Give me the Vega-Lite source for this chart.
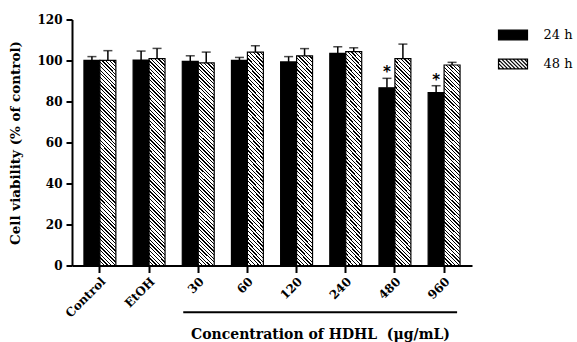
{
  "$schema": "https://vega.github.io/schema/vega-lite/v6.json",
  "autosize": {"type": "none"},
  "padding": {"left": 72, "top": 19.5, "right": 105, "bottom": 76.5},
  "width": 400,
  "height": 246,
  "background": "white",
  "data": {"values": [
    {"group": "Control", "time": "24 h", "mean": 100.1, "hi": 101.9, "sig": ""},
    {"group": "Control", "time": "48 h", "mean": 100.1, "hi": 104.8, "sig": ""},
    {"group": "EtOH", "time": "24 h", "mean": 100.2, "hi": 104.6, "sig": ""},
    {"group": "EtOH", "time": "48 h", "mean": 100.9, "hi": 105.9, "sig": ""},
    {"group": "30", "time": "24 h", "mean": 99.6, "hi": 102.3, "sig": ""},
    {"group": "30", "time": "48 h", "mean": 98.8, "hi": 104.1, "sig": ""},
    {"group": "60", "time": "24 h", "mean": 100.1, "hi": 101.5, "sig": ""},
    {"group": "60", "time": "48 h", "mean": 104.1, "hi": 107.2, "sig": ""},
    {"group": "120", "time": "24 h", "mean": 99.3, "hi": 101.9, "sig": ""},
    {"group": "120", "time": "48 h", "mean": 102.3, "hi": 105.8, "sig": ""},
    {"group": "240", "time": "24 h", "mean": 103.5, "hi": 106.7, "sig": ""},
    {"group": "240", "time": "48 h", "mean": 104.3, "hi": 106.2, "sig": ""},
    {"group": "480", "time": "24 h", "mean": 86.7, "hi": 91.3, "sig": "*"},
    {"group": "480", "time": "48 h", "mean": 100.9, "hi": 108.0, "sig": ""},
    {"group": "960", "time": "24 h", "mean": 84.3, "hi": 87.7, "sig": "*"},
    {"group": "960", "time": "48 h", "mean": 97.8, "hi": 99.1, "sig": ""}
  ]},
  "layer": [
    {
      "mark": {"type": "bar", "stroke": "black", "strokeWidth": 1.2},
      "encoding": {
        "x": {"field": "group", "type": "nominal", "title": "Concentration of HDHL\u00a0 (μg/mL)",
          "scale": {"domain": ["Control", "EtOH", "30", "60", "120", "240", "480", "960"], "paddingInner": 0.351, "paddingOuter": 0.243},
          "axis": {"labelAngle": -45, "tickSize": 7, "labelPadding": 3, "titleX": 248, "titleY": 72.5, "titleBaseline": "alphabetic", "titleAlign": "center", "titleFontSize": 14}},
        "xOffset": {"field": "time", "type": "nominal", "scale": {"domain": ["24 h", "48 h"], "paddingInner": 0, "paddingOuter": 0}},
        "y": {"field": "mean", "type": "quantitative", "title": "Cell viability (% of control)",
          "scale": {"domain": [0, 120], "nice": false},
          "axis": {"values": [0, 20, 40, 60, 80, 100, 120], "tickSize": 6, "labelPadding": 4, "titleX": -52.5, "titleY": 123, "titleBaseline": "alphabetic", "titleAlign": "center", "titleAngle": 270, "titleFontSize": 13.5}},
        "fill": {
          "field": "time", "type": "nominal",
          "scale": {"domain": ["24 h", "48 h"], "range": ["#000000", "#ffffff"]},
          "condition": {"test": "datum.time === '48 h'", "value": {
            "gradient": "linear", "x1": 0, "y1": 1, "x2": 0.0836, "y2": -0.071,
            "stops": [
              {"offset":0,"color":"#000"},{"offset":0.0058,"color":"#000"},{"offset":0.0058,"color":"#fff"},{"offset":0.0167,"color":"#fff"},
              {"offset":0.0167,"color":"#000"},{"offset":0.0225,"color":"#000"},{"offset":0.0225,"color":"#fff"},{"offset":0.0333,"color":"#fff"},
              {"offset":0.0333,"color":"#000"},{"offset":0.0391,"color":"#000"},{"offset":0.0391,"color":"#fff"},{"offset":0.05,"color":"#fff"},
              {"offset":0.05,"color":"#000"},{"offset":0.0558,"color":"#000"},{"offset":0.0558,"color":"#fff"},{"offset":0.0667,"color":"#fff"},
              {"offset":0.0667,"color":"#000"},{"offset":0.0725,"color":"#000"},{"offset":0.0725,"color":"#fff"},{"offset":0.0833,"color":"#fff"},
              {"offset":0.0833,"color":"#000"},{"offset":0.0891,"color":"#000"},{"offset":0.0891,"color":"#fff"},{"offset":0.1,"color":"#fff"},
              {"offset":0.1,"color":"#000"},{"offset":0.1058,"color":"#000"},{"offset":0.1058,"color":"#fff"},{"offset":0.1167,"color":"#fff"},
              {"offset":0.1167,"color":"#000"},{"offset":0.1225,"color":"#000"},{"offset":0.1225,"color":"#fff"},{"offset":0.1333,"color":"#fff"},
              {"offset":0.1333,"color":"#000"},{"offset":0.1391,"color":"#000"},{"offset":0.1391,"color":"#fff"},{"offset":0.15,"color":"#fff"},
              {"offset":0.15,"color":"#000"},{"offset":0.1558,"color":"#000"},{"offset":0.1558,"color":"#fff"},{"offset":0.1667,"color":"#fff"},
              {"offset":0.1667,"color":"#000"},{"offset":0.1725,"color":"#000"},{"offset":0.1725,"color":"#fff"},{"offset":0.1833,"color":"#fff"},
              {"offset":0.1833,"color":"#000"},{"offset":0.1891,"color":"#000"},{"offset":0.1891,"color":"#fff"},{"offset":0.2,"color":"#fff"},
              {"offset":0.2,"color":"#000"},{"offset":0.2058,"color":"#000"},{"offset":0.2058,"color":"#fff"},{"offset":0.2167,"color":"#fff"},
              {"offset":0.2167,"color":"#000"},{"offset":0.2225,"color":"#000"},{"offset":0.2225,"color":"#fff"},{"offset":0.2333,"color":"#fff"},
              {"offset":0.2333,"color":"#000"},{"offset":0.2391,"color":"#000"},{"offset":0.2391,"color":"#fff"},{"offset":0.25,"color":"#fff"},
              {"offset":0.25,"color":"#000"},{"offset":0.2558,"color":"#000"},{"offset":0.2558,"color":"#fff"},{"offset":0.2667,"color":"#fff"},
              {"offset":0.2667,"color":"#000"},{"offset":0.2725,"color":"#000"},{"offset":0.2725,"color":"#fff"},{"offset":0.2833,"color":"#fff"},
              {"offset":0.2833,"color":"#000"},{"offset":0.2891,"color":"#000"},{"offset":0.2891,"color":"#fff"},{"offset":0.3,"color":"#fff"},
              {"offset":0.3,"color":"#000"},{"offset":0.3058,"color":"#000"},{"offset":0.3058,"color":"#fff"},{"offset":0.3167,"color":"#fff"},
              {"offset":0.3167,"color":"#000"},{"offset":0.3225,"color":"#000"},{"offset":0.3225,"color":"#fff"},{"offset":0.3333,"color":"#fff"},
              {"offset":0.3333,"color":"#000"},{"offset":0.3391,"color":"#000"},{"offset":0.3391,"color":"#fff"},{"offset":0.35,"color":"#fff"},
              {"offset":0.35,"color":"#000"},{"offset":0.3558,"color":"#000"},{"offset":0.3558,"color":"#fff"},{"offset":0.3667,"color":"#fff"},
              {"offset":0.3667,"color":"#000"},{"offset":0.3725,"color":"#000"},{"offset":0.3725,"color":"#fff"},{"offset":0.3833,"color":"#fff"},
              {"offset":0.3833,"color":"#000"},{"offset":0.3891,"color":"#000"},{"offset":0.3891,"color":"#fff"},{"offset":0.4,"color":"#fff"},
              {"offset":0.4,"color":"#000"},{"offset":0.4058,"color":"#000"},{"offset":0.4058,"color":"#fff"},{"offset":0.4167,"color":"#fff"},
              {"offset":0.4167,"color":"#000"},{"offset":0.4225,"color":"#000"},{"offset":0.4225,"color":"#fff"},{"offset":0.4333,"color":"#fff"},
              {"offset":0.4333,"color":"#000"},{"offset":0.4391,"color":"#000"},{"offset":0.4391,"color":"#fff"},{"offset":0.45,"color":"#fff"},
              {"offset":0.45,"color":"#000"},{"offset":0.4558,"color":"#000"},{"offset":0.4558,"color":"#fff"},{"offset":0.4667,"color":"#fff"},
              {"offset":0.4667,"color":"#000"},{"offset":0.4725,"color":"#000"},{"offset":0.4725,"color":"#fff"},{"offset":0.4833,"color":"#fff"},
              {"offset":0.4833,"color":"#000"},{"offset":0.4891,"color":"#000"},{"offset":0.4891,"color":"#fff"},{"offset":0.5,"color":"#fff"},
              {"offset":0.5,"color":"#000"},{"offset":0.5058,"color":"#000"},{"offset":0.5058,"color":"#fff"},{"offset":0.5167,"color":"#fff"},
              {"offset":0.5167,"color":"#000"},{"offset":0.5225,"color":"#000"},{"offset":0.5225,"color":"#fff"},{"offset":0.5333,"color":"#fff"},
              {"offset":0.5333,"color":"#000"},{"offset":0.5391,"color":"#000"},{"offset":0.5391,"color":"#fff"},{"offset":0.55,"color":"#fff"},
              {"offset":0.55,"color":"#000"},{"offset":0.5558,"color":"#000"},{"offset":0.5558,"color":"#fff"},{"offset":0.5667,"color":"#fff"},
              {"offset":0.5667,"color":"#000"},{"offset":0.5725,"color":"#000"},{"offset":0.5725,"color":"#fff"},{"offset":0.5833,"color":"#fff"},
              {"offset":0.5833,"color":"#000"},{"offset":0.5891,"color":"#000"},{"offset":0.5891,"color":"#fff"},{"offset":0.6,"color":"#fff"},
              {"offset":0.6,"color":"#000"},{"offset":0.6058,"color":"#000"},{"offset":0.6058,"color":"#fff"},{"offset":0.6167,"color":"#fff"},
              {"offset":0.6167,"color":"#000"},{"offset":0.6225,"color":"#000"},{"offset":0.6225,"color":"#fff"},{"offset":0.6333,"color":"#fff"},
              {"offset":0.6333,"color":"#000"},{"offset":0.6391,"color":"#000"},{"offset":0.6391,"color":"#fff"},{"offset":0.65,"color":"#fff"},
              {"offset":0.65,"color":"#000"},{"offset":0.6558,"color":"#000"},{"offset":0.6558,"color":"#fff"},{"offset":0.6667,"color":"#fff"},
              {"offset":0.6667,"color":"#000"},{"offset":0.6725,"color":"#000"},{"offset":0.6725,"color":"#fff"},{"offset":0.6833,"color":"#fff"},
              {"offset":0.6833,"color":"#000"},{"offset":0.6891,"color":"#000"},{"offset":0.6891,"color":"#fff"},{"offset":0.7,"color":"#fff"},
              {"offset":0.7,"color":"#000"},{"offset":0.7058,"color":"#000"},{"offset":0.7058,"color":"#fff"},{"offset":0.7167,"color":"#fff"},
              {"offset":0.7167,"color":"#000"},{"offset":0.7225,"color":"#000"},{"offset":0.7225,"color":"#fff"},{"offset":0.7333,"color":"#fff"},
              {"offset":0.7333,"color":"#000"},{"offset":0.7391,"color":"#000"},{"offset":0.7391,"color":"#fff"},{"offset":0.75,"color":"#fff"},
              {"offset":0.75,"color":"#000"},{"offset":0.7558,"color":"#000"},{"offset":0.7558,"color":"#fff"},{"offset":0.7667,"color":"#fff"},
              {"offset":0.7667,"color":"#000"},{"offset":0.7725,"color":"#000"},{"offset":0.7725,"color":"#fff"},{"offset":0.7833,"color":"#fff"},
              {"offset":0.7833,"color":"#000"},{"offset":0.7891,"color":"#000"},{"offset":0.7891,"color":"#fff"},{"offset":0.8,"color":"#fff"},
              {"offset":0.8,"color":"#000"},{"offset":0.8058,"color":"#000"},{"offset":0.8058,"color":"#fff"},{"offset":0.8167,"color":"#fff"},
              {"offset":0.8167,"color":"#000"},{"offset":0.8225,"color":"#000"},{"offset":0.8225,"color":"#fff"},{"offset":0.8333,"color":"#fff"},
              {"offset":0.8333,"color":"#000"},{"offset":0.8391,"color":"#000"},{"offset":0.8391,"color":"#fff"},{"offset":0.85,"color":"#fff"},
              {"offset":0.85,"color":"#000"},{"offset":0.8558,"color":"#000"},{"offset":0.8558,"color":"#fff"},{"offset":0.8667,"color":"#fff"},
              {"offset":0.8667,"color":"#000"},{"offset":0.8725,"color":"#000"},{"offset":0.8725,"color":"#fff"},{"offset":0.8833,"color":"#fff"},
              {"offset":0.8833,"color":"#000"},{"offset":0.8891,"color":"#000"},{"offset":0.8891,"color":"#fff"},{"offset":0.9,"color":"#fff"},
              {"offset":0.9,"color":"#000"},{"offset":0.9058,"color":"#000"},{"offset":0.9058,"color":"#fff"},{"offset":0.9167,"color":"#fff"},
              {"offset":0.9167,"color":"#000"},{"offset":0.9225,"color":"#000"},{"offset":0.9225,"color":"#fff"},{"offset":0.9333,"color":"#fff"},
              {"offset":0.9333,"color":"#000"},{"offset":0.9391,"color":"#000"},{"offset":0.9391,"color":"#fff"},{"offset":0.95,"color":"#fff"},
              {"offset":0.95,"color":"#000"},{"offset":0.9558,"color":"#000"},{"offset":0.9558,"color":"#fff"},{"offset":0.9667,"color":"#fff"},
              {"offset":0.9667,"color":"#000"},{"offset":0.9725,"color":"#000"},{"offset":0.9725,"color":"#fff"},{"offset":0.9833,"color":"#fff"},
              {"offset":0.9833,"color":"#000"},{"offset":0.9891,"color":"#000"},{"offset":0.9891,"color":"#fff"},{"offset":1,"color":"#fff"}
            ]}},
          "legend": {
            "orient": "none", "legendX": 425.5, "legendY": 0, "title": null, "padding": 0,
            "symbolType": "M-1,-0.34H1V0.34H-1Z", "symbolSize": 841,
            "symbolStrokeColor": "black", "symbolStrokeWidth": 1.2,
            "labelFont": "DejaVu Serif", "labelFontSize": 13, "labelColor": "black", "labelOffset": 15, "rowPadding": 6,
            "encoding": {"symbols": {
              "shape": {
                "condition": {"test": "datum.value === '48 h'", "value": "M-1,-0.34H1V0.34H-1Z M-1,0.22L-0.88,0.34 M-1,-0.04L-0.62,0.34 M-1,-0.3L-0.36,0.34 M-0.78,-0.34L-0.1,0.34 M-0.52,-0.34L0.16,0.34 M-0.26,-0.34L0.42,0.34 M0,-0.34L0.68,0.34 M0.26,-0.34L0.94,0.34 M0.52,-0.34L1,0.14 M0.78,-0.34L1,-0.12"},
                "value": "M-1,-0.34H1V0.34H-1Z"
              },
              "fill": {"condition": {"test": "datum.value === '48 h'", "value": "#ffffff"}, "value": "#000000"},
              "stroke": {"value": "#000000"},
              "strokeWidth": {"value": 1.2},
              "opacity": {"value": 1}
            }}
          }
        }
      }
    },
    {
      "mark": {"type": "rule", "color": "black", "strokeWidth": 1.5},
      "encoding": {
        "x": {"field": "group", "type": "nominal", "title": "Concentration of HDHL\u00a0 (μg/mL)"},
        "xOffset": {"field": "time", "type": "nominal"},
        "y": {"field": "mean", "type": "quantitative", "title": "Cell viability (% of control)"},
        "y2": {"field": "hi"}
      }
    },
    {
      "mark": {"type": "tick", "color": "black", "size": 9, "thickness": 1.5, "orient": "horizontal"},
      "encoding": {
        "x": {"field": "group", "type": "nominal", "title": "Concentration of HDHL\u00a0 (μg/mL)"},
        "xOffset": {"field": "time", "type": "nominal"},
        "y": {"field": "hi", "type": "quantitative", "title": "Cell viability (% of control)"}
      }
    },
    {
      "transform": [{"filter": "datum.sig === '*'"}],
      "mark": {"type": "text", "font": "DejaVu Sans", "fontSize": 15, "fontWeight": "bold", "color": "black", "baseline": "alphabetic", "dy": -1},
      "encoding": {
        "x": {"field": "group", "type": "nominal", "title": "Concentration of HDHL\u00a0 (μg/mL)"},
        "xOffset": {"field": "time", "type": "nominal"},
        "y": {"field": "hi", "type": "quantitative", "title": "Cell viability (% of control)"},
        "text": {"field": "sig"}
      }
    },
    {
      "data": {"values": [{"span": "HDHL"}]},
      "mark": {"type": "rule", "color": "black", "strokeWidth": 2, "xOffset": -15, "x2Offset": 13},
      "encoding": {
        "x": {"datum": "30", "type": "nominal", "title": "Concentration of HDHL\u00a0 (μg/mL)"},
        "x2": {"datum": "960"},
        "y": {"datum": -22.8, "type": "quantitative", "title": "Cell viability (% of control)"}
      }
    }
  ],
  "config": {
    "view": {"stroke": null},
    "axis": {
      "labelFont": "DejaVu Serif", "labelFontWeight": "bold", "labelFontSize": 12, "labelColor": "black",
      "titleFont": "DejaVu Serif", "titleFontWeight": "bold", "titleColor": "black",
      "domainColor": "black", "domainWidth": 2, "tickColor": "black", "tickWidth": 2, "grid": false
    }
  }
}
